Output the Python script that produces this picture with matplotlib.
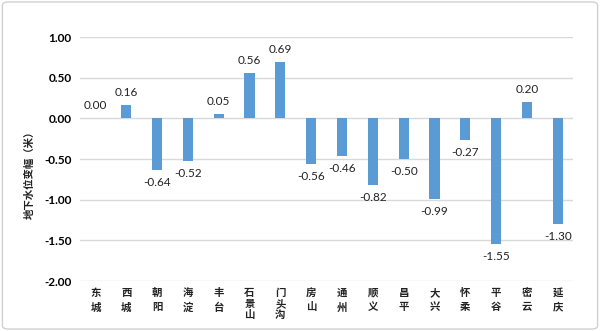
import matplotlib.pyplot as plt
from matplotlib.patches import FancyBboxPatch

plt.rcParams['font.family'] = ['Noto Sans CJK SC', 'DejaVu Sans']

# 各区地下水位变幅（米）
districts = ['东城', '西城', '朝阳', '海淀', '丰台', '石景山', '门头沟', '房山',
             '通州', '顺义', '昌平', '大兴', '怀柔', '平谷', '密云', '延庆']
changes = [0.00, 0.16, -0.64, -0.52, 0.05, 0.56, 0.69, -0.56,
           -0.46, -0.82, -0.50, -0.99, -0.27, -1.55, 0.20, -1.30]
yticks = [-2.0, -1.5, -1.0, -0.5, 0.0, 0.5, 1.0]

bar_color = '#5B9BD5'
grid_color = '#D9D9D9'
num_font = 'Lato'

fig = plt.figure(figsize=(6, 3.31), dpi=100)
ax = fig.add_axes([0.1333, 0.151, 0.822, 0.737])

x = list(range(len(districts)))
ax.bar(x, changes, width=0.33, color=bar_color, zorder=3)

# 数值标签
for xi, v in zip(x, changes):
    off = 5 if v >= 0 else -5
    ax.annotate(f'{v:.2f}', (xi, v), xytext=(0, off), textcoords='offset points',
                ha='center', va='bottom' if v >= 0 else 'top',
                fontsize=8.5, color='#222222', family=num_font)

ax.set_ylim(-2.0, 1.0)
ax.set_xlim(-0.5, len(districts) - 0.5)
ax.set_yticks(yticks)
ax.set_yticklabels([f'{t:.2f}' for t in yticks], fontsize=8.5, fontweight='bold',
                   family=num_font)
ax.yaxis.grid(True, color=grid_color, linewidth=1)
ax.set_axisbelow(True)
for s in ax.spines.values():
    s.set_visible(False)
ax.tick_params(axis='both', length=0)
ax.tick_params(axis='y', pad=6)

# 区名竖排
ax.set_xticks(x)
ax.set_xticklabels(['\n'.join(d) for d in districts], fontsize=7.5,
                   fontweight='bold', color='#222222')
for lbl, d in zip(ax.get_xticklabels(), districts):
    lbl.set_linespacing(1.55 if len(d) == 2 else 1.1)
ax.tick_params(axis='x', pad=5)

fig.text(0.05, 1 - 172 / 331, '地下水位变幅（米）', rotation=90, ha='center',
         va='center', fontsize=7.5, fontweight='bold', color='#222222')

# 外框
fig.patches.append(FancyBboxPatch((0.004, 0.006), 0.992, 0.988,
                                  boxstyle='round,pad=0,rounding_size=0.01',
                                  transform=fig.transFigure, fill=False,
                                  edgecolor='#D0D0D0', linewidth=1))

fig.savefig('out.png', dpi=100)
